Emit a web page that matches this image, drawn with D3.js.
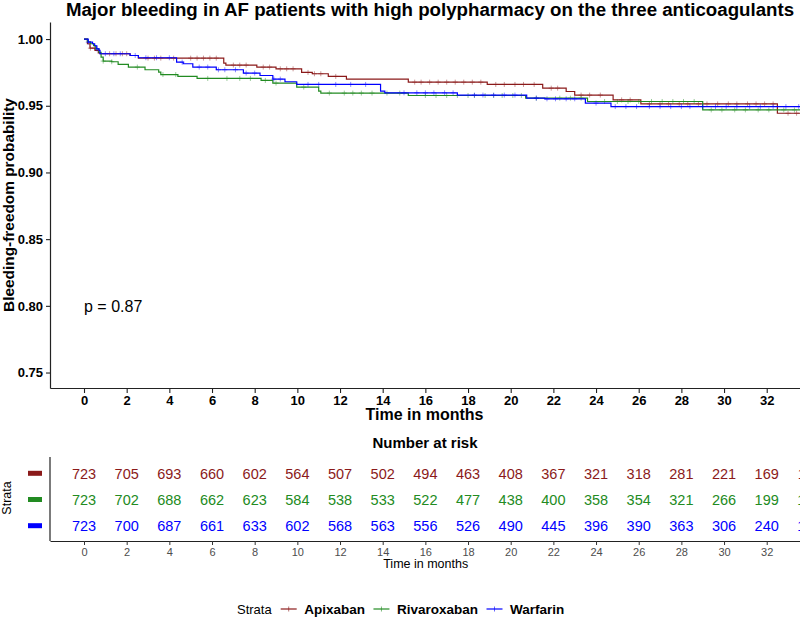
<!DOCTYPE html>
<html><head><meta charset="utf-8">
<script src="https://cdn.jsdelivr.net/npm/d3@7"></script>
<style>
body{margin:0;background:#fff;}
text{font-family:"Liberation Sans",Arial,sans-serif;}
</style></head>
<body><svg id="c" width="800" height="617"></svg>
<script>
// ---------- data ----------
const strata = ["Apixaban","Rivaroxaban","Warfarin"];
const colors = ["#8B1A1A","#228B22","#0000FF"];

const apixTime = [0,0.16,0.28,0.52,0.67,0.75,2.16,2.55,6.55,6.65,8.1,9.0,10.2,10.7,11.45,12.3,15.2,18.9,21.5,22.6,23.0,24.8,26.1,32.5,35];
const apixSurv = [1.0,0.9965,0.9932,0.9915,0.9897,0.989,0.9877,0.9857,0.982,0.9805,0.979,0.9777,0.975,0.974,0.972,0.970,0.9677,0.966,0.9632,0.9607,0.958,0.9544,0.9514,0.9444,0.9444];
const rivaTime = [0,0.16,0.3,0.45,0.55,0.7,0.8,0.9,1.3,1.6,2.08,2.86,3.5,3.6,4.4,5.3,8.3,8.85,9.97,11.0,11.1,15.2,20.7,23.6,29.0,35];
const rivaSurv = [1.0,0.998,0.9965,0.995,0.9927,0.990,0.9865,0.9835,0.983,0.981,0.979,0.977,0.9752,0.9734,0.972,0.9705,0.969,0.967,0.964,0.961,0.9595,0.9577,0.9557,0.9532,0.9469,0.9469];
const warfTime = [0,0.2,0.4,0.5,0.6,0.7,0.75,2.16,2.55,4.34,4.65,5.1,6.2,7.47,8.25,8.85,9.42,9.97,13.9,14.1,17.5,20.75,21.6,23.5,24.7,35];
const warfSurv = [1.0,0.9977,0.9965,0.995,0.9927,0.9915,0.989,0.9877,0.986,0.9827,0.9815,0.979,0.977,0.9745,0.9727,0.970,0.968,0.966,0.961,0.9597,0.958,0.9557,0.9552,0.952,0.9494,0.9494];

const apixCens = [0.3,0.5,1.2,1.5,1.8,2.0,3.0,3.3,3.6,4.2,5.0,5.3,5.6,5.9,6.2,7.0,7.3,7.6,8.4,8.7,9.2,9.5,9.8,10.5,10.8,11.1,11.8,15.5,15.8,16.2,16.6,17.0,17.4,17.8,18.2,18.6,19.3,19.7,20.2,20.6,21.1,21.9,22.2,23.3,23.7,24.2,25.2,25.6,26.5,27.0,27.4,27.9,28.3,28.8,29.2,29.7,30.2,30.6,31.1,31.5,31.9,32.3,33.0,33.4];
const rivaCens = [0.9,1.3,2.5,3.7,4.3,5.8,6.7,7.3,7.8,8.5,9.0,10.3,11.5,12.2,12.6,13.0,13.5,14.2,14.8,16.0,16.5,17.0,17.5,18.0,18.3,18.8,19.2,19.6,20.1,20.5,21.2,22.3,22.8,23.3,24.4,25.0,25.5,26.0,26.6,27.1,27.6,28.1,28.6,29.4,29.9,30.5,31.0,31.6,32.1,32.8,33.3];
const warfCens = [0.2,0.6,1.0,1.4,1.7,2.4,2.9,3.4,4.0,4.6,5.4,5.8,6.3,6.6,7.1,7.6,8.0,8.9,9.2,10.5,11.0,11.8,12.5,13.2,15.0,15.6,16.0,16.4,16.9,17.3,18.3,18.7,19.2,19.7,20.2,21.2,21.7,22.1,22.6,23.0,24.0,24.9,25.4,25.9,26.5,27.0,27.5,28.0,28.4,29.0,29.6,30.1,30.6,31.2,31.7,32.3,32.9,33.5];

const riskTimes = [0,2,4,6,8,10,12,14,16,18,20,22,24,26,28,30,32,34];
const apixRisk = [723,705,693,660,602,564,507,502,494,463,408,367,321,318,281,221,169,118];
const rivaRisk = [723,702,688,662,623,584,538,533,522,477,438,400,358,354,321,266,199,140];
const warfRisk = [723,700,687,661,633,602,568,563,556,526,490,445,396,390,363,306,240,172];

const xTicks = [0,2,4,6,8,10,12,14,16,18,20,22,24,26,28,30,32];
const yTicks = [0.75,0.80,0.85,0.90,0.95,1.00];
const pText = "p = 0.87";

// ---------- drawing ----------
const svg = d3.select("#c");
const font = '"Liberation Sans",Arial,sans-serif';
const series = [
  {name:strata[0], color:colors[0], t:apixTime, s:apixSurv, c:apixCens, r:apixRisk},
  {name:strata[1], color:colors[1], t:rivaTime, s:rivaSurv, c:rivaCens, r:rivaRisk},
  {name:strata[2], color:colors[2], t:warfTime, s:warfSurv, c:warfCens, r:warfRisk}
];

const x = d3.scaleLinear().domain([-1.594, 33.56]).range([50, 800]);
const y = d3.scaleLinear().domain([0.7384, 1.0128]).range([388, 22]);

// title
svg.append("text").attr("x", 430).attr("y", 16).attr("text-anchor","middle")
  .style("font-weight","bold").style("font-size","18.7px").text("Major bleeding in AF patients with high polypharmacy on the three anticoagulants");

// clip
svg.append("clipPath").attr("id","pc").append("rect").attr("x",50).attr("y",15).attr("width",750).attr("height",373);

const g = svg.append("g").attr("clip-path","url(#pc)");
const line = d3.line().x(d=>x(d[0])).y(d=>y(d[1])).curve(d3.curveStepAfter);
series.forEach(sr=>{
  const pts = sr.t.map((t,i)=>[t, sr.s[i]]);
  g.append("path").datum(pts).attr("d",line).attr("fill","none")
    .attr("stroke",sr.color).attr("stroke-width",1.2);
  const bis = d3.bisector(d=>d).right;
  g.selectAll(null).data(sr.c).enter().append("path")
    .attr("transform", d=>{const i = bis(sr.t, d)-1; return `translate(${x(d)},${y(sr.s[Math.max(0,i)])})`;})
    .attr("d","M-2.5,0H2.5M0,-2.5V2.5").attr("stroke",sr.color).attr("stroke-width",1).attr("opacity",0.45);
});

// axes
const ax = svg.append("g").attr("transform","translate(0,388)")
  .call(d3.axisBottom(x).tickValues(xTicks).tickSizeOuter(0).tickSizeInner(5).tickPadding(3));
const ay = svg.append("g").attr("transform","translate(50,0)")
  .call(d3.axisLeft(y).tickValues(yTicks).tickFormat(d3.format(".2f")).tickSizeOuter(0).tickSizeInner(4).tickPadding(3));
[ax,ay].forEach(a=>{
  a.selectAll("path.domain").attr("stroke","#222").attr("stroke-width",1.2);
  a.selectAll(".tick line").attr("stroke","#222").attr("stroke-width",1.1);
  a.selectAll(".tick text").attr("fill","#000").style("font-family",font).style("font-size","13px").style("font-weight","bold");
});

svg.append("text").attr("x",424.5).attr("y",419.5).attr("text-anchor","middle")
  .style("font-weight","bold").style("font-size","16px").text("Time in months");
svg.append("text").attr("transform","translate(14,205) rotate(-90)").attr("text-anchor","middle")
  .style("font-weight","bold").style("font-size","15.4px").text("Bleeding-freedom probability");
svg.append("text").attr("x",84).attr("y",311.7).style("font-size","16px").text(pText);

// ---------- risk table ----------
svg.append("text").attr("x",425).attr("y",448).attr("text-anchor","middle")
  .style("font-weight","bold").style("font-size","15px").text("Number at risk");
const ry = d3.scalePoint().domain(strata).range([473.3,525.7]);
series.forEach(sr=>{
  svg.selectAll(null).data(riskTimes.map((t,i)=>[t, sr.r[i]])).enter().append("text")
    .attr("x",d=>x(d[0])).attr("y",ry(sr.name)+5.2).attr("text-anchor","middle")
    .attr("fill",sr.color).style("font-size","14.5px").text(d=>d[1]);
  svg.append("rect").attr("x",28).attr("y",ry(sr.name)-2.5).attr("width",14).attr("height",5).attr("fill",sr.color);
});
svg.append("line").attr("x1",50).attr("x2",50).attr("y1",457).attr("y2",541).attr("stroke","#222").attr("stroke-width",1.2);
const tx = svg.append("g").attr("transform","translate(0,541)")
  .call(d3.axisBottom(x).tickValues(xTicks).tickSizeOuter(0).tickSizeInner(4).tickPadding(3));
tx.selectAll("path.domain").attr("stroke","#222").attr("stroke-width",1.2);
tx.selectAll(".tick line").attr("stroke","#333");
tx.selectAll(".tick text").attr("fill","#4D4D4D").style("font-family",font).style("font-size","11px");
svg.append("text").attr("x",425.7).attr("y",567.5).attr("text-anchor","middle")
  .style("font-size","12.5px").text("Time in months");
svg.append("text").attr("transform","translate(11,498) rotate(-90)").attr("text-anchor","middle")
  .style("font-size","12.5px").text("Strata");

// ---------- bottom legend ----------
const ly = 609;
let cx = 237;
const lt = svg.append("text").attr("x",cx).attr("y",ly+4.6).style("font-size","13px").text("Strata");
cx += lt.node().getComputedTextLength() + 9;
series.forEach(sr=>{
  svg.append("line").attr("x1",cx).attr("x2",cx+16).attr("y1",ly).attr("y2",ly).attr("stroke",sr.color).attr("stroke-width",1.2);
  svg.append("line").attr("x1",cx+8).attr("x2",cx+8).attr("y1",ly-2.5).attr("y2",ly+2.5).attr("stroke",sr.color).attr("stroke-width",1).attr("opacity",0.6);
  cx += 16 + 7.5;
  const t = svg.append("text").attr("x",cx).attr("y",ly+4.8).style("font-size","13.5px").style("font-weight","bold").text(sr.name);
  cx += t.node().getComputedTextLength() + 8.5;
});
</script></body></html>
